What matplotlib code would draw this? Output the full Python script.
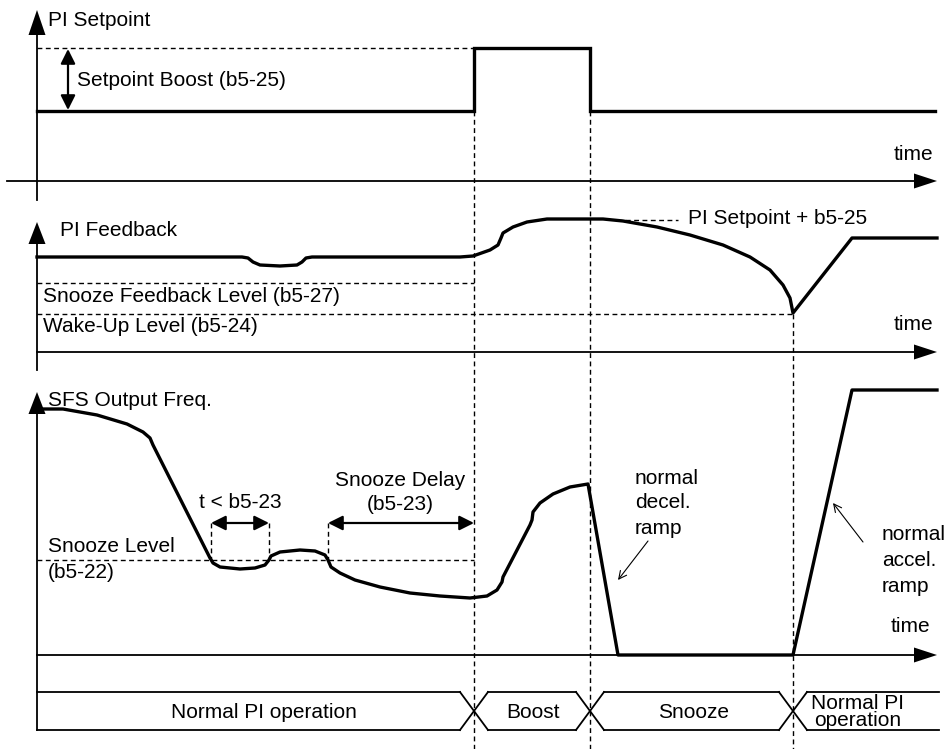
import matplotlib
matplotlib.use("Agg")
import matplotlib.pyplot as plt
from matplotlib.patches import Polygon
from matplotlib import font_manager

# ---------------- data (diagram units = pixels, y downward) ----------------
t_boost_on = 474
t_boost_off = 590
t_wake = 793

setpoint_x = [37, 474, 474, 590, 590, 935]
setpoint_y = [111, 111, 48, 48, 111, 111]
setpoint_boost_level = 48

feedback_x = [37, 242, 248, 253, 260, 280, 297, 302, 306, 312, 460, 473, 490, 498, 501,
              503, 513, 527, 547, 560, 603, 623, 657, 690, 723, 750, 770, 783, 790, 793,
              852, 937]
feedback_y = [257, 257, 258, 262, 265, 266, 265, 262, 258, 257, 257, 256, 250, 245, 238,
              233, 227, 222, 219, 219, 219, 221, 227, 235, 245, 257, 270, 285, 298, 313,
              238, 238]
snooze_fb_level = 283
wake_level = 314

sfs_x = [37, 63, 97, 127, 143, 150, 153, 210, 213, 220, 240, 255, 265, 269, 271, 280, 300,
         315, 325, 328, 331, 340, 355, 380, 410, 440, 470, 487, 497, 502, 503, 530, 532,
         533, 540, 553, 570, 588, 618, 793, 852, 937]
sfs_y = [409, 409, 415, 424, 432, 438, 445, 558, 563, 567, 569, 568, 565, 560, 556, 552, 550,
         551, 555, 560, 567, 573, 580, 587, 593, 596, 598, 596, 590, 582, 577, 525, 520,
         512, 503, 494, 487, 484, 655, 655, 390, 390]
snooze_level = 560

state_bounds = [37, 474, 590, 793, 939]
state_labels = ["Normal PI operation", "Boost", "Snooze", "Normal PI\noperation"]

# ---------------- figure ----------------
fig = plt.figure(figsize=(9.49, 7.49), dpi=100)
ax = fig.add_axes([0, 0, 1, 1])
ax.set_xlim(0, 949)
ax.set_ylim(749, 0)
ax.axis("off")

FONT = "Liberation Sans"
names = {f.name for f in font_manager.fontManager.ttflist}
NARROW = "Liberation Sans Narrow" if "Liberation Sans Narrow" in names else FONT
FS = 15
FS_STATE = 15

K = "black"
AX_LW = 1.3
SIG_LW = 2.4
DASH_LW = 1.0
DASH = (0, (3.5, 2.5))


def up_arrow(x, tip, base, half=8.5):
    ax.add_patch(Polygon([[x, tip], [x - half, base], [x + half, base]], closed=True,
                         color=K, lw=0))


def right_arrow(y, tip, base, half=7.5):
    ax.add_patch(Polygon([[tip, y], [base, y - half], [base, y + half]], closed=True,
                         color=K, lw=0))


def txt(x, y, s, ha="left", **kw):
    ax.text(x, y, s, fontsize=FS, family=FONT, va="center", ha=ha, **kw)


# ---- axes ----
ax.plot([37, 37], [34, 200], color=K, lw=AX_LW)
up_arrow(37, 10, 35)
ax.plot([7, 916], [181, 181], color=K, lw=AX_LW)
right_arrow(181, 937, 914)

ax.plot([37, 37], [243, 370], color=K, lw=AX_LW)
up_arrow(37, 222, 244)
ax.plot([37, 916], [352, 352], color=K, lw=AX_LW)
right_arrow(352, 937, 914)

ax.plot([37, 37], [413, 730], color=K, lw=AX_LW)
up_arrow(37, 392, 414)
ax.plot([37, 916], [655, 655], color=K, lw=AX_LW)
right_arrow(655, 937, 914)

# ---- vertical dashed event lines ----
for xv, y0 in [(t_boost_on, 111), (t_boost_off, 111), (t_wake, wake_level)]:
    ax.plot([xv, xv], [y0, 749], color=K, lw=DASH_LW, ls=DASH)

# ---- top panel ----
ax.plot([37, t_boost_on], [setpoint_boost_level] * 2, color=K, lw=DASH_LW, ls=DASH)
ax.plot(setpoint_x, setpoint_y, color=K, lw=SIG_LW, solid_joinstyle="miter")
ax.annotate("", xy=(68, 49), xytext=(68, 110),
            arrowprops=dict(arrowstyle="<|-|>", color=K, lw=1.6, mutation_scale=22,
                            shrinkA=0, shrinkB=0))
txt(48, 20, "PI Setpoint")
txt(77, 80, "Setpoint Boost (b5-25)")
txt(933, 155, "time", ha="right")

# ---- middle panel ----
ax.plot([37, t_boost_on], [snooze_fb_level] * 2, color=K, lw=DASH_LW, ls=DASH)
ax.plot([37, t_wake], [wake_level] * 2, color=K, lw=DASH_LW, ls=DASH)
ax.plot([617, 678], [220, 220], color=K, lw=DASH_LW, ls=DASH)
ax.plot(feedback_x, feedback_y, color=K, lw=SIG_LW, solid_joinstyle="round")
txt(60, 230, "PI Feedback")
txt(43, 296, "Snooze Feedback Level (b5-27)")
txt(43, 327, "Wake-Up Level (b5-24)")
txt(688, 219, "PI Setpoint + b5-25")
txt(933, 325, "time", ha="right")

# ---- bottom panel ----
ax.plot([37, t_boost_on], [snooze_level] * 2, color=K, lw=DASH_LW, ls=DASH)
for xv in [211, 269, 328]:
    ax.plot([xv, xv], [523, snooze_level], color=K, lw=DASH_LW, ls=DASH)
ax.plot(sfs_x, sfs_y, color=K, lw=SIG_LW, solid_joinstyle="round")
for xa, xb in [(211, 269), (328, 474)]:
    ax.annotate("", xy=(xa, 523), xytext=(xb, 523),
                arrowprops=dict(arrowstyle="<|-|>", color=K, lw=1.6, mutation_scale=22,
                                shrinkA=0, shrinkB=0))
txt(48, 400, "SFS Output Freq.")
txt(240, 503, "t < b5-23", ha="center")
txt(400, 480, "Snooze Delay", ha="center")
txt(400, 505, "(b5-23)", ha="center")
txt(48, 547, "Snooze Level")
txt(48, 573, "(b5-22)")
txt(635, 478, "normal")
txt(635, 503, "decel.")
txt(635, 529, "ramp")
txt(882, 535, "normal")
txt(882, 561, "accel.")
txt(882, 587, "ramp")
txt(930, 627, "time", ha="right")
ax.annotate("", xy=(618, 580), xytext=(648, 541),
            arrowprops=dict(arrowstyle="->", color=K, lw=0.8, mutation_scale=14,
                            shrinkA=0, shrinkB=0))
ax.annotate("", xy=(833, 503), xytext=(863, 542),
            arrowprops=dict(arrowstyle="->", color=K, lw=0.8, mutation_scale=14,
                            shrinkA=0, shrinkB=0))

# ---- state bar ----
TOP, BOT, HW = 692, 730, 14
inner = state_bounds[1:-1]
starts = [state_bounds[0]] + [b + HW for b in inner]
ends = [b - HW for b in inner] + [state_bounds[-1]]
for s, e in zip(starts, ends):
    ax.plot([s, e], [TOP, TOP], color=K, lw=AX_LW)
    ax.plot([s, e], [BOT, BOT], color=K, lw=AX_LW)
for b in inner:
    ax.plot([b - HW, b + HW], [TOP, BOT], color=K, lw=AX_LW)
    ax.plot([b - HW, b + HW], [BOT, TOP], color=K, lw=AX_LW)
centers = [264, 533, 694, 858]
for c, lab in zip(centers, state_labels):
    ax.text(c, 712, lab, fontsize=FS_STATE, family=NARROW, va="center", ha="center",
            linespacing=0.85)

fig.savefig("out.png", dpi=100)
